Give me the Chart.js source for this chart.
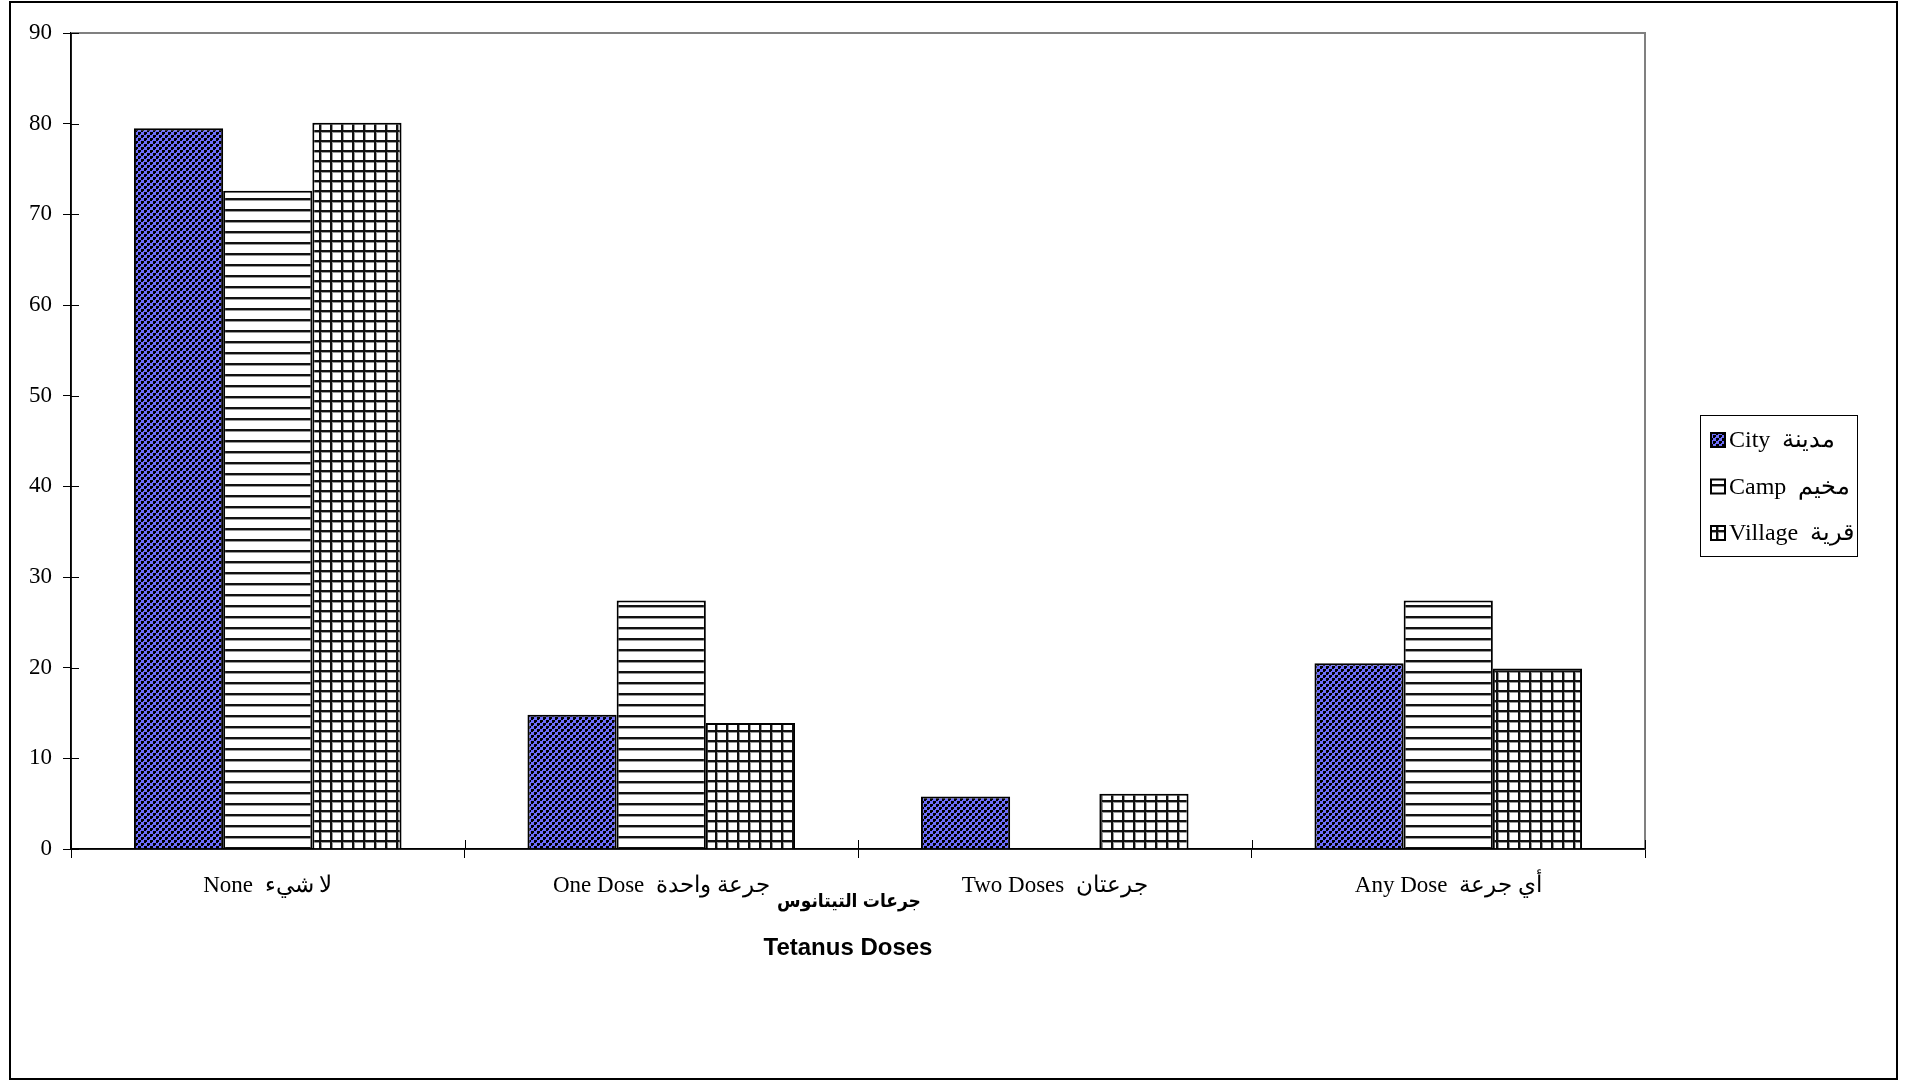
<!DOCTYPE html>
<html>
<head>
<meta charset="utf-8">
<title>Tetanus Doses</title>
<script src="https://cdn.jsdelivr.net/npm/chart.js@4.4.1/dist/chart.umd.min.js"></script>
<style>
    html, body { margin: 0; padding: 0; background: #fff; }
    #wrap { width: 1908px; height: 1081px; }
</style>
</head>
<body>
<div id="wrap"><canvas id="dosesChart" width="1908" height="1081"></canvas></div>
<script>
// ---------------- DATA ----------------

const categories = ["None  لا شيء", "One Dose  جرعة واحدة", "Two Doses  جرعتان", "Any Dose  أي جرعة"];
const seriesNames = ["City  مدينة", "Camp  مخيم", "Village  قرية"];

const cityValues = [79.5, 14.8, 5.8, 20.5];
const campValues = [72.6, 27.4, 0, 27.4];
const villageValues = [80.1, 13.9, 6.1, 19.9];

const yMin = 0;
const yMax = 90;
const yStep = 10;

const titleArabic = "جرعات التيتانوس";
const titleEnglish = "Tetanus Doses";


// ---------------- PATTERNS ----------------

function makePattern(w, h, draw) {
    const c = document.createElement("canvas");
    c.width = w;
    c.height = h;
    const g = c.getContext("2d");
    draw(g, w, h);
    return g.createPattern(c, "repeat");
}

// blue / black checker
const cityFill = makePattern(6, 6, (g, w, h) => {
    g.fillStyle = "#6e6efc";
    g.fillRect(0, 0, w, h);
    g.fillStyle = "#000";
    g.fillRect(0, 0, 3, 3);
    g.fillRect(3, 3, 3, 3);
    g.fillStyle = "#6e6efc";
    g.fillRect(2, 2, 1, 1);
    g.fillRect(5, 5, 1, 1);
});

// horizontal lines
const campFill = makePattern(4, 11, (g, w, h) => {
    g.fillStyle = "#fff";
    g.fillRect(0, 0, w, h);
    g.fillStyle = "#111";
    g.fillRect(0, 0, w, 2);
    g.fillStyle = "#999";
    g.fillRect(0, 2, w, 1);
});

// small grid
const villageFill = makePattern(11, 10, (g, w, h) => {
    g.fillStyle = "#fff";
    g.fillRect(0, 0, w, h);
    g.fillStyle = "#999";
    g.fillRect(0, 2, w, 1);
    g.fillRect(2, 0, 1, h);
    g.fillStyle = "#111";
    g.fillRect(0, 0, w, 2);
    g.fillRect(0, 0, 2, h);
});

const fills = [cityFill, campFill, villageFill];


// ---------------- EXTRAS ----------------

const serif = "'Liberation Serif', 'DejaVu Serif', serif";
const sans = "'Liberation Sans', 'DejaVu Sans Condensed', 'DejaVu Sans', sans-serif";

const extras = {
    id: "extras",
    afterDraw(chart) {
        const ctx = chart.ctx;
        const a = chart.chartArea;
        ctx.save();

        // grey plot frame, top and right
        ctx.strokeStyle = "#808080";
        ctx.lineWidth = 2;
        ctx.beginPath();
        ctx.moveTo(a.left, a.top);
        ctx.lineTo(a.right, a.top);
        ctx.lineTo(a.right, a.bottom);
        ctx.stroke();

        // axes on top
        ctx.strokeStyle = "#000";
        ctx.lineWidth = 1.5;
        ctx.beginPath();
        ctx.moveTo(a.left, a.top);
        ctx.lineTo(a.left, a.bottom);
        ctx.lineTo(a.right, a.bottom);
        ctx.stroke();

        // inner tick marks
        const y = chart.scales.y;
        ctx.lineWidth = 1;
        ctx.beginPath();
        y.ticks.forEach(t => {
            const py = Math.round(y.getPixelForValue(t.value)) + 0.5;
            ctx.moveTo(a.left, py);
            ctx.lineTo(a.left + 8, py);
        });
        const n = categories.length;
        for (let i = 0; i <= n; i++) {
            const px = Math.round(a.left + (a.right - a.left) * i / n) + 0.5;
            ctx.moveTo(px, a.bottom);
            ctx.lineTo(px, a.bottom - 9);
        }
        ctx.stroke();

        // axis title, two lines
        ctx.fillStyle = "#000";
        ctx.textAlign = "center";
        ctx.textBaseline = "middle";
        ctx.font = "bold 19px " + sans;
        ctx.fillText(titleArabic, 849, 902);
        ctx.font = "bold 24px " + sans;
        ctx.fillText(titleEnglish, 848, 948);

        // legend box
        const lx = 1700, ly = 415, lw = 157, lh = 141;
        ctx.strokeStyle = "#000";
        ctx.lineWidth = 1;
        ctx.strokeRect(lx + 0.5, ly + 0.5, lw, lh);

        ctx.font = "24px " + serif;
        ctx.textBaseline = "middle";
        ctx.textAlign = "left";
        chart.data.datasets.forEach((ds, i) => {
            const cy = ly + 25 + i * 46.5;
            ctx.fillStyle = ds.backgroundColor;
            ctx.fillRect(lx + 10, cy - 8, 16, 16);
            ctx.strokeStyle = "#000";
            ctx.lineWidth = 2;
            ctx.strokeRect(lx + 11, cy - 7, 14, 14);
            ctx.fillStyle = "#000";
            ctx.fillText(ds.label, lx + 29, cy + 1);
        });

        // outer frame
        ctx.strokeStyle = "#000";
        ctx.lineWidth = 2;
        ctx.strokeRect(10, 2, 1887, 1077);

        ctx.restore();
    }
};


// ---------------- CHART ----------------

const ctx = document.getElementById("dosesChart");

new Chart(ctx, {
    type: "bar",
    data: {
        labels: categories,
        datasets: [
            { label: seriesNames[0], data: cityValues, backgroundColor: fills[0] },
            { label: seriesNames[1], data: campValues, backgroundColor: fills[1] },
            { label: seriesNames[2], data: villageValues, backgroundColor: fills[2] }
        ]
    },
    options: {
        responsive: false,
        animation: false,
        devicePixelRatio: 1,
        layout: {
            padding: { top: 33, right: 263, left: 0, bottom: 0 }
        },
        datasets: {
            bar: {
                borderColor: "#000",
                borderWidth: 2,
                categoryPercentage: 0.68,
                barPercentage: 1.0
            }
        },
        plugins: {
            legend: { display: false },
            tooltip: { enabled: false }
        },
        scales: {
            x: {
                afterFit(scale) { scale.height = 232; },
                grid: {
                    offset: true,
                    drawOnChartArea: false,
                    tickLength: 9,
                    color: "#000",
                    lineWidth: 1
                },
                border: { display: true, color: "#000", width: 1.5 },
                ticks: {
                    color: "#000",
                    padding: 14,
                    maxRotation: 0,
                    font: { family: serif, size: 23 }
                }
            },
            y: {
                min: yMin,
                max: yMax,
                afterFit(scale) { scale.width = 71; },
                grid: {
                    drawOnChartArea: false,
                    tickLength: 8,
                    color: "#000",
                    lineWidth: 1
                },
                border: { display: true, color: "#000", width: 1.5 },
                ticks: {
                    stepSize: yStep,
                    color: "#000",
                    padding: 11,
                    font: { family: serif, size: 23 }
                }
            }
        }
    },
    plugins: [extras]
});
</script>
</body>
</html>
